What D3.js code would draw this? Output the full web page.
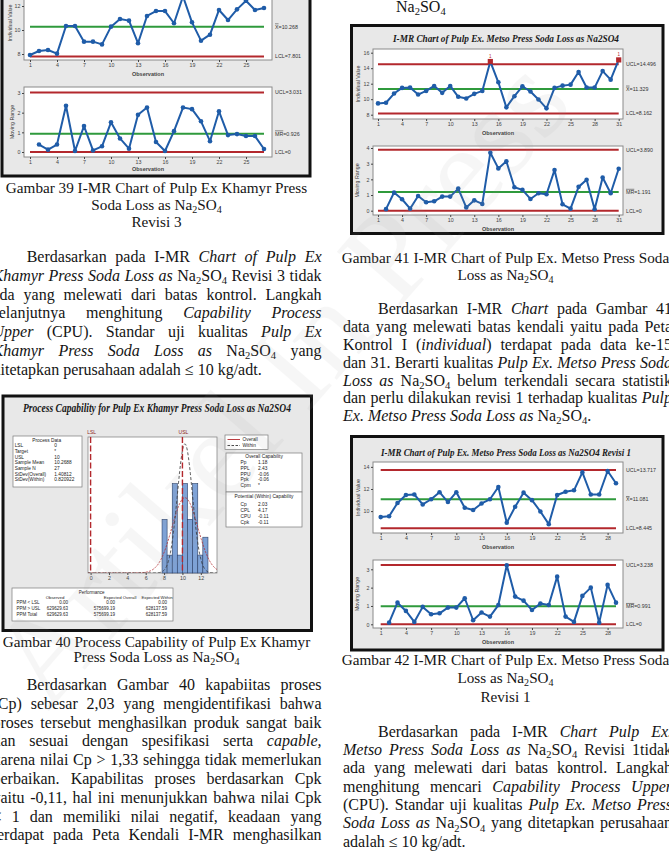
<!DOCTYPE html>
<html>
<head>
<meta charset="utf-8">
<script src="https://cdn.jsdelivr.net/npm/d3@7"></script>
<style>
  body { margin: 0; background: #fff; }
  svg { display: block; }
</style>
</head>
<body>
<svg id="page" width="669" height="851"></svg>
<script>
// ---------- data: Gambar 39, Khamyr press revisi 3 ----------
const khamyrIndividual = [7.92, 8.25, 8.33, 8.03, 10.33, 10.33, 9.03, 9.03, 8.80, 10.28, 10.92, 10.78, 8.90, 11.17,
  11.58, 11.58, 10.56, 12.80, 10.64, 9.11, 9.61, 11.67, 10.83, 11.72, 12.44, 11.67, 11.83];
const khamyrMovingRange = [null, 0.38, 0.12, 0.38, 2.35, 0.05, 1.32, 0.08, 0.29, 1.51, 0.69, 0.17, 1.89, 2.26,
  0.51, 0.05, 1.06, 2.26, 2.18, 1.56, 0.55, 2.07, 0.86, 0.91, 0.81, 0.81, 0.15];
const khamyrIndLimits = [12.735, 10.268, 7.801];   // UCL, CL, LCL
const khamyrMrLimits = [3.031, 0.926, 0];
const khamyrIndLabels = ["UCL=12.735", "~X=10.268", "LCL=7.801"];
const khamyrMrLabels = ["UCL=3.031", "~MR=0.926", "LCL=0"];
const khamyrIndTicks = [8, 10, 12];
const khamyrMrTicks = [0, 1, 2, 3];
const khamyrObsTicks = [1, 4, 7, 10, 13, 16, 19, 22, 25];

// ---------- data: Gambar 40, process capability ----------
const capHistEdges = [7.78, 8.33, 8.89, 9.44, 10.0, 10.56, 11.11, 11.67, 12.22, 12.78];
const capHistCounts = [3, 1, 5, 1, 5, 3, 5, 1, 2];
const capAxisTicks = [0, 2, 4, 6, 8, 10, 12];
const capSpecs = [0, 10];                 // LSL, USL
const capFit = [10.2688, 1.40812, 0.820922, 27]; // mean, sd overall, sd within, N
const capProcessData = [["LSL", "0"], ["Target", "*"], ["USL", "10"], ["Sample Mean", "10.2688"],
  ["Sample N", "27"], ["StDev(Overall)", "1.40812"], ["StDev(Within)", "0.820922"]];
const capOverall = [["Pp", "1.18"], ["PPL", "2.43"], ["PPU", "-0.06"], ["Ppk", "-0.06"], ["Cpm", "*"]];
const capPotential = [["Cp", "2.03"], ["CPL", "4.17"], ["CPU", "-0.11"], ["Cpk", "-0.11"]];
const capPerfRows = ["PPM < LSL", "PPM > USL", "PPM Total"];
const capPerfObserved = ["0.00", "629629.63", "629629.63"];
const capPerfOverall = ["0.00", "575699.19", "575699.19"];
const capPerfWithin = ["0.00", "628137.59", "628137.59"];

// ---------- data: Gambar 41, Metso press ----------
const metsoIndividual = [9.46, 9.54, 10.73, 11.46, 11.50, 10.60, 11.07, 11.71, 10.82, 11.71, 10.31, 10.10, 10.69,
  11.07, 14.86, 12.18, 8.95, 10.39, 11.67, 10.99, 9.97, 8.82, 11.46, 11.75, 11.88, 13.50, 11.50, 11.50, 13.63,
  12.52, 15.07];
const metsoMovingRange = [null, 0.10, 1.16, 0.73, 0.13, 0.94, 0.54, 0.60, 0.90, 0.90, 1.41, 0.21, 0.66, 0.43,
  3.70, 2.70, 3.15, 1.50, 1.33, 0.75, 1.11, 1.05, 2.59, 0.41, 0.13, 1.52, 1.97, 0.09, 2.12, 1.11, 2.68];
const metsoIndLimits = [14.496, 11.329, 8.162];
const metsoMrLimits = [3.890, 1.191, 0];
const metsoIndLabels = ["UCL=14.496", "~X=11.329", "LCL=8.162"];
const metsoMrLabels = ["UCL=3.890", "~MR=1.191", "LCL=0"];
const metsoIndTicks = [8, 10, 12, 14, 16];
const metsoMrTicks = [0, 1, 2, 3, 4];
const metsoObsTicks = [1, 4, 7, 10, 13, 16, 19, 22, 25, 28, 31];

// ---------- data: Gambar 42, Metso press revisi 1 ----------
const metsoRevIndividual = [9.46, 9.54, 10.73, 11.46, 11.50, 10.60, 11.07, 11.71, 10.82, 11.71, 10.31, 10.10,
  10.69, 11.07, 12.18, 8.95, 10.39, 11.67, 10.99, 9.97, 8.82, 11.46, 11.75, 11.88, 13.50, 11.50, 11.50, 13.63, 12.52];
const metsoRevMovingRange = [null, 0.09, 1.18, 0.73, 0.13, 0.95, 0.55, 0.60, 0.91, 0.91, 1.42, 0.22, 0.64, 0.42,
  1.05, 3.22, 1.51, 1.29, 0.78, 1.13, 1.05, 2.60, 0.42, 0.13, 1.55, 2.00, 0.09, 2.15, 1.18];
const metsoRevIndLimits = [13.717, 11.081, 8.445];
const metsoRevMrLimits = [3.238, 0.991, 0];
const metsoRevIndLabels = ["UCL=13.717", "~X=11.081", "LCL=8.445"];
const metsoRevMrLabels = ["UCL=3.238", "~MR=0.991", "LCL=0"];
const metsoRevIndTicks = [10, 12, 14];
const metsoRevMrTicks = [0, 1, 2, 3];
const metsoRevObsTicks = [1, 4, 7, 10, 13, 16, 19, 22, 25, 28];

// ---------- page text ----------
const paraKhamyrRev3 = [
  "Berdasarkan pada I-MR *Chart of Pulp Ex*",
  "*Khamyr Press Soda Loss as* Na_2SO_4 Revisi 3 tidak",
  "ada yang melewati dari batas kontrol. Langkah",
  "selanjutnya menghitung *Capability Process*",
  "*Upper* (CPU). Standar uji kualitas *Pulp Ex*",
  "*Khamyr Press Soda Loss as* Na_2SO_4 yang",
  "ditetapkan perusahaan adalah ≤ 10 kg/adt."
];
const paraCapability = [
  "Berdasarkan Gambar 40 kapabiitas proses",
  "(Cp) sebesar 2,03 yang mengidentifikasi bahwa",
  "proses tersebut menghasilkan produk sangat baik",
  "dan sesuai dengan spesifikasi serta *capable,*",
  "karena nilai Cp > 1,33 sehingga tidak memerlukan",
  "perbaikan. Kapabilitas proses berdasarkan Cpk",
  "yaitu -0,11, hal ini menunjukkan bahwa nilai Cpk",
  "< 1 dan memiliki nilai negatif, keadaan yang",
  "terdapat pada Peta Kendali I-MR menghasilkan"
];
const paraMetso = [
  "Berdasarkan I-MR *Chart* pada Gambar 41",
  "data yang melewati batas kendali yaitu pada Peta",
  "Kontrol I (*individual*) terdapat pada data ke-15",
  "dan 31. Berarti kualitas *Pulp Ex. Metso Press Soda*",
  "*Loss as* Na_2SO_4 belum terkendali secara statistik",
  "dan perlu dilakukan revisi 1 terhadap kualitas *Pulp*",
  "*Ex. Metso Press Soda Loss as* Na_2SO_4."
];
const paraMetsoRev = [
  "Berdasarkan pada I-MR *Chart Pulp Ex.*",
  "*Metso Press Soda Loss as* Na_2SO_4 Revisi 1tidak",
  "ada yang melewati dari batas kontrol. Langkah",
  "menghitung mencari *Capability Process Upper*",
  "(CPU). Standar uji kualitas *Pulp Ex. Metso Press*",
  "*Soda Loss as* Na_2SO_4 yang ditetapkan perusahaan",
  "adalah ≤ 10 kg/adt."
];

const serif = "'Liberation Serif', 'Times New Roman', serif";
const sans = "'Liberation Sans', Arial, sans-serif";
const colBlue = "#1f5ca8", colRed = "#b3282d", colGreen = "#2f9a3c";

let svg = d3.select("#page");

// ---------- rich text helpers (italic with *, subscript with _) ----------
function parseRich(str) {
  let out = [], it = false;
  for (let i = 0; i < str.length; i++) {
    let c = str[i];
    if (c === "*") { it = !it; continue; }
    if (c === "_") { out.push({ c: str[i + 1], it: it, sub: true }); i++; continue; }
    out.push({ c: c, it: it, sub: false });
  }
  return out;
}

function splitWords(chars) {
  let words = [], cur = [];
  chars.forEach(ch => {
    if (ch.c === " ") { if (cur.length) words.push(cur); cur = []; }
    else cur.push(ch);
  });
  if (cur.length) words.push(cur);
  return words;
}

function richWord(g, chars, y, size) {
  let t = g.append("text").attr("y", y).attr("font-size", size)
    .attr("font-family", serif).attr("fill", "#141414");
  let runs = [];
  chars.forEach(ch => {
    let last = runs[runs.length - 1];
    if (last && last.it === ch.it && last.sub === ch.sub) last.s += ch.c;
    else runs.push({ s: ch.c, it: ch.it, sub: ch.sub });
  });
  let down = false;
  runs.forEach(r => {
    let ts = t.append("tspan").text(r.s);
    if (r.it) ts.attr("font-style", "italic");
    if (r.sub) {
      ts.attr("font-size", size * 0.66);
      if (!down) { ts.attr("dy", size * 0.2); down = true; }
    } else if (down) { ts.attr("dy", -size * 0.2); down = false; }
  });
  return t;
}

function textLine(g, str, x0, x1, y, size, align) {
  let nodes = splitWords(parseRich(str)).map(w => richWord(g, w, y, size));
  let widths = nodes.map(n => n.node().getComputedTextLength());
  let total = d3.sum(widths), gap = size * 0.25, x = x0;
  if (align === "justify" && nodes.length > 1) gap = (x1 - x0 - total) / (nodes.length - 1);
  if (align === "center") x = (x0 + x1) / 2 - (total + gap * (nodes.length - 1)) / 2;
  nodes.forEach((n, i) => { n.attr("x", x); x += widths[i] + gap; });
}

function paragraph(lines, x0, x1, indentX, y0, step, size, endsHere) {
  lines.forEach((l, i) => {
    let last = endsHere && i === lines.length - 1;
    textLine(svg, l, i === 0 ? indentX : x0, x1, y0 + i * step, size, last ? "left" : "justify");
  });
}

function caption(lines, cx, ys, size) {
  lines.forEach((l, i) => textLine(svg, l, cx - 200, cx + 200, ys[i], size, "center"));
}

// ---------- Minitab style I-MR chart ----------
function frame(box) {
  svg.append("rect").attr("x", box[0]).attr("y", box[1])
    .attr("width", box[2] - box[0]).attr("height", box[3] - box[1])
    .attr("fill", "#e8e8e8").attr("stroke", "#111").attr("stroke-width", 3);
}

function chartTitle(text, cx, y, size, width) {
  svg.append("text").attr("x", cx).attr("y", y).attr("text-anchor", "middle")
    .attr("font-family", serif).attr("font-weight", "bold").attr("font-style", "italic")
    .attr("font-size", size).attr("textLength", width).attr("lengthAdjust", "spacingAndGlyphs")
    .attr("fill", "#1a1a1a").text(text);
}

function limitLabel(g, str, x, y) {
  let t = g.append("text").attr("x", x).attr("y", y).attr("dy", "0.35em")
    .attr("font-family", sans).attr("font-size", 5.3).attr("fill", "#333");
  if (str[0] === "~") {
    let k = str.indexOf("=");
    t.append("tspan").text(str.slice(1, k)).style("text-decoration", "overline");
    t.append("tspan").text(str.slice(k));
  } else t.text(str);
}

function imrPanel(p) {
  let g = svg.append("g");
  let [bx0, by0, bx1, by1] = p.box;
  let n = p.values.length;
  let x = d3.scaleLinear().domain([1, n]).range(p.xRange);
  let y = d3.scaleLinear().domain(p.yCal).range(p.yPix);

  g.append("rect").attr("x", bx0).attr("y", by0).attr("width", bx1 - bx0).attr("height", by1 - by0)
    .attr("fill", "#fff").attr("stroke", "#8a8a8a").attr("stroke-width", 1);

  p.limits.forEach((v, i) => {
    g.append("line").attr("x1", x(1)).attr("x2", x(n)).attr("y1", y(v)).attr("y2", y(v))
      .attr("stroke", i === 1 ? colGreen : colRed).attr("stroke-width", 2);
  });

  let line = d3.line().defined(d => d != null).x((d, i) => x(i + 1)).y(d => y(d));
  g.append("path").datum(p.values).attr("d", line).attr("fill", "none")
    .attr("stroke", colBlue).attr("stroke-width", 2).attr("stroke-linejoin", "round");

  p.values.forEach((v, i) => {
    if (v == null) return;
    if (v > p.limits[0] || v < p.limits[2]) {
      g.append("rect").attr("x", x(i + 1) - 2.6).attr("y", y(v) - 2.6).attr("width", 5.2).attr("height", 5.2)
        .attr("fill", colRed);
      g.append("text").attr("x", x(i + 1)).attr("y", y(v) - 4).attr("text-anchor", "middle")
        .attr("font-family", sans).attr("font-size", 4.5).attr("fill", colRed).text("1");
    } else {
      g.append("circle").attr("cx", x(i + 1)).attr("cy", y(v)).attr("r", 2.3).attr("fill", colBlue);
    }
  });

  let ay = g.append("g").attr("transform", "translate(" + bx0 + ",0)")
    .call(d3.axisLeft(y).tickValues(p.yTicks).tickFormat(d3.format("d")).tickSize(2).tickPadding(1.5));
  ay.select(".domain").remove();
  ay.attr("font-size", 5.3).attr("font-family", sans).style("color", "#444");

  let ax = g.append("g").attr("transform", "translate(0," + by1 + ")")
    .call(d3.axisBottom(x).tickValues(p.xTicks).tickFormat(d3.format("d")).tickSize(2).tickPadding(1.5));
  ax.select(".domain").remove();
  ax.attr("font-size", 5.3).attr("font-family", sans).style("color", "#444");

  p.labels.forEach((lab, i) => limitLabel(g, lab, bx1 + 3, y(p.limits[i])));

  g.append("text").attr("transform", "translate(" + p.yLabelX + "," + (by0 + by1) / 2 + ") rotate(-90)")
    .attr("text-anchor", "middle").attr("font-family", sans).attr("font-size", 5.3).attr("fill", "#333")
    .text(p.yLabel);
  g.append("text").attr("x", (bx0 + bx1) / 2).attr("y", p.obsY).attr("text-anchor", "middle")
    .attr("font-family", sans).attr("font-size", 5.5).attr("font-weight", "bold").attr("fill", "#444")
    .text("Observation");
}

// Gambar 39
frame([2, -220, 310, 176]);
imrPanel({ box: [24, -14, 272, 60], values: khamyrIndividual, limits: khamyrIndLimits, labels: khamyrIndLabels,
  xRange: [30, 264], yCal: [8, 12], yPix: [54, 6], yTicks: khamyrIndTicks, xTicks: khamyrObsTicks,
  yLabel: "Individual Value", yLabelX: 12, obsY: 76 });
imrPanel({ box: [24, 87, 272, 157], values: khamyrMovingRange, limits: khamyrMrLimits, labels: khamyrMrLabels,
  xRange: [30, 264], yCal: [0, 3], yPix: [152, 93], yTicks: khamyrMrTicks, xTicks: khamyrObsTicks,
  yLabel: "Moving Range", yLabelX: 14, obsY: 171 });

// Gambar 41
frame([351.5, 25.5, 663, 233.5]);
chartTitle("I-MR Chart of Pulp Ex. Metso Press Soda Loss as Na2SO4", 506, 41.5, 11, 226);
imrPanel({ box: [373, 49, 623, 119], values: metsoIndividual, limits: metsoIndLimits, labels: metsoIndLabels,
  xRange: [378, 618.7], yCal: [8, 16], yPix: [114.7, 52.7], yTicks: metsoIndTicks, xTicks: metsoObsTicks,
  yLabel: "Individual Value", yLabelX: 360, obsY: 134.5 });
imrPanel({ box: [373, 146, 623, 215], values: metsoMovingRange, limits: metsoMrLimits, labels: metsoMrLabels,
  xRange: [378, 618.7], yCal: [0, 4], yPix: [210.7, 148], yTicks: metsoMrTicks, xTicks: metsoObsTicks,
  yLabel: "Moving Range", yLabelX: 359, obsY: 230.5 });

// Gambar 42
frame([351.5, 436.5, 663, 650]);
chartTitle("I-MR Chart of Pulp Ex. Metso Press Soda Loss as Na2SO4 Revisi 1", 506, 455.5, 11, 250);
imrPanel({ box: [373, 462, 623, 533], values: metsoRevIndividual, limits: metsoRevIndLimits, labels: metsoRevIndLabels,
  xRange: [380.7, 616], yCal: [8.445, 13.717], yPix: [528.3, 470], yTicks: metsoRevIndTicks, xTicks: metsoRevObsTicks,
  yLabel: "Individual Value", yLabelX: 360, obsY: 548.5 });
imrPanel({ box: [373, 560, 623, 628], values: metsoRevMovingRange, limits: metsoRevMrLimits, labels: metsoRevMrLabels,
  xRange: [380.7, 616], yCal: [0, 3], yPix: [624.3, 569.3], yTicks: metsoRevMrTicks, xTicks: metsoRevObsTicks,
  yLabel: "Moving Range", yLabelX: 359, obsY: 644 });

// ---------- Gambar 40: process capability ----------
frame([3, 396, 311.5, 630.5]);
chartTitle("Process Capability for Pulp Ex Khamyr Press Soda Loss as Na2SO4", 157, 411.5, 11.5, 268);

function smallText(g, str, x, y, anchor, opts) {
  let t = g.append("text").attr("x", x).attr("y", y).attr("dy", "0.35em").attr("text-anchor", anchor || "start")
    .attr("font-family", sans).attr("font-size", (opts && opts.size) || 4.8).attr("fill", (opts && opts.fill) || "#222")
    .text(str);
  return t;
}
function whiteBox(g, x0, y0, x1, y1) {
  g.append("rect").attr("x", x0).attr("y", y0).attr("width", x1 - x0).attr("height", y1 - y0)
    .attr("fill", "#fff").attr("stroke", "#7a7a7a").attr("stroke-width", 0.7);
}

let cap = svg.append("g");
let capX = d3.scaleLinear().domain([0, 12]).range([90.6, 200.8]);
let capY = d3.scaleLinear().domain([0, 7.6]).range([573, 437]);

whiteBox(cap, 88, 437, 217, 573);
let binW = capHistEdges[1] - capHistEdges[0];
capHistCounts.forEach((c, i) => {
  cap.append("rect").attr("x", capX(capHistEdges[i])).attr("y", capY(c))
    .attr("width", capX(capHistEdges[i + 1]) - capX(capHistEdges[i])).attr("height", capY(0) - capY(c))
    .attr("fill", "#7ea2d6").attr("stroke", "#2b3f66").attr("stroke-width", 0.6);
});

cap.append("clipPath").attr("id", "capclip").append("rect")
  .attr("x", 88).attr("y", 437).attr("width", 129).attr("height", 136);
let normal = (v, m, s) => Math.exp(-0.5 * ((v - m) / s) ** 2) / (s * Math.sqrt(2 * Math.PI));
let curveXs = d3.range(-0.3, 13.9, 0.04);
let fitScale = capFit[3] * binW;
[[capFit[1], colRed, "2.2,1.2"], [capFit[2], "#333", "3,2"]].forEach(([sd, col, dash]) => {
  cap.append("path").datum(curveXs)
    .attr("d", d3.line().x(v => capX(v)).y(v => capY(fitScale * normal(v, capFit[0], sd))))
    .attr("fill", "none").attr("stroke", col).attr("stroke-width", 0.8).attr("stroke-dasharray", dash)
    .attr("clip-path", "url(#capclip)");
});

capSpecs.forEach((v, i) => {
  cap.append("line").attr("x1", capX(v)).attr("x2", capX(v)).attr("y1", 437).attr("y2", 573)
    .attr("stroke", colRed).attr("stroke-width", 1.4).attr("stroke-dasharray", "6,2.5");
  smallText(cap, i === 0 ? "LSL" : "USL", capX(v) + 1, 432.5, "middle", { fill: "#8e1f24", size: 5 });
});

let capAxis = cap.append("g").attr("transform", "translate(0,573)")
  .call(d3.axisBottom(capX).tickValues(capAxisTicks).tickFormat(d3.format("d")).tickSize(2).tickPadding(1.5));
capAxis.select(".domain").remove();
capAxis.attr("font-size", 5.3).attr("font-family", sans).style("color", "#444");

// process data box
whiteBox(cap, 13, 436, 82, 487);
smallText(cap, "Process Data", 46.7, 440, "middle");
capProcessData.forEach((r, i) => {
  smallText(cap, r[0], 14.7, 445.5 + i * 5.7);
  smallText(cap, r[1], 54.3, 445.5 + i * 5.7);
});

// legend
whiteBox(cap, 225, 435, 268, 449.5);
cap.append("line").attr("x1", 227.5).attr("x2", 240).attr("y1", 439.5).attr("y2", 439.5)
  .attr("stroke", colRed).attr("stroke-width", 0.9);
cap.append("line").attr("x1", 227.5).attr("x2", 240).attr("y1", 445.5).attr("y2", 445.5)
  .attr("stroke", "#333").attr("stroke-width", 0.9).attr("stroke-dasharray", "2.5,1.5");
smallText(cap, "Overall", 242.5, 439.5);
smallText(cap, "Within", 242.5, 445.5);

// capability boxes
whiteBox(cap, 226, 453, 302, 492);
smallText(cap, "Overall Capability", 264, 456.7, "middle");
capOverall.forEach((r, i) => {
  smallText(cap, r[0], 240.5, 462.3 + i * 5.8);
  smallText(cap, r[1], 258, 462.3 + i * 5.8);
});
whiteBox(cap, 226, 492, 302, 527);
smallText(cap, "Potential (Within) Capability", 264, 496.7, "middle");
capPotential.forEach((r, i) => {
  smallText(cap, r[0], 240.5, 504.3 + i * 5.9);
  smallText(cap, r[1], 258, 504.3 + i * 5.9);
});

// performance table
whiteBox(cap, 12, 588, 173, 621);
smallText(cap, "Performance", 91.7, 592, "middle", { size: 4.5 });
smallText(cap, "Observed", 55, 597, "middle", { size: 4.3 });
smallText(cap, "Expected Overall", 120, 597, "middle", { size: 4.3 });
smallText(cap, "Expected Within", 157, 597, "middle", { size: 4.3 });
capPerfRows.forEach((r, i) => {
  let yy = 602.7 + i * 5.7;
  smallText(cap, r, 16.5, yy, "start", { size: 4.5 });
  smallText(cap, capPerfObserved[i], 68, yy, "end", { size: 4.5 });
  smallText(cap, capPerfOverall[i], 115, yy, "end", { size: 4.5 });
  smallText(cap, capPerfWithin[i], 167, yy, "end", { size: 4.5 });
});

// ---------- page text ----------
const bodySize = 16, captionSize = 15.2;
textLine(svg, "Na_2SO_4", 396, 500, 11.5, bodySize, "left");

caption(["Gambar 39 I-MR Chart of Pulp Ex Khamyr Press", "Soda Loss as Na_2SO_4", "Revisi 3"],
  156.5, [193.3, 210, 226.7], captionSize);
paragraph(paraKhamyrRev3, -7.5, 321.5, 26.7, 262, 18.75, bodySize, true);

caption(["Gambar 40 Process Capability of Pulp Ex Khamyr", "Press Soda Loss as Na_2SO_4"],
  156.5, [646.7, 662], captionSize);
paragraph(paraCapability, -7.5, 321.5, 26.7, 690, 18.8, bodySize, false);

caption(["Gambar 41 I-MR Chart of Pulp Ex. Metso Press Soda", "Loss as Na_2SO_4"],
  505.5, [263.3, 280], captionSize);
paragraph(paraMetso, 343, 672, 378, 314.3, 17.8, bodySize, true);

caption(["Gambar 42 I-MR Chart of Pulp Ex. Metso Press Soda", "Loss as Na_2SO_4", "Revisi 1"],
  505.5, [665, 683.3, 701.7], captionSize);
paragraph(paraMetsoRev, 343, 672, 378, 736.7, 18.35, bodySize, true);

// watermark
svg.append("text").attr("transform", "translate(48,712) rotate(-49)")
  .attr("font-family", serif).attr("font-size", 128).attr("fill", "#9a9a9a").attr("opacity", 0.08)
  .text("Artikel In Press");
</script>
</body>
</html>
